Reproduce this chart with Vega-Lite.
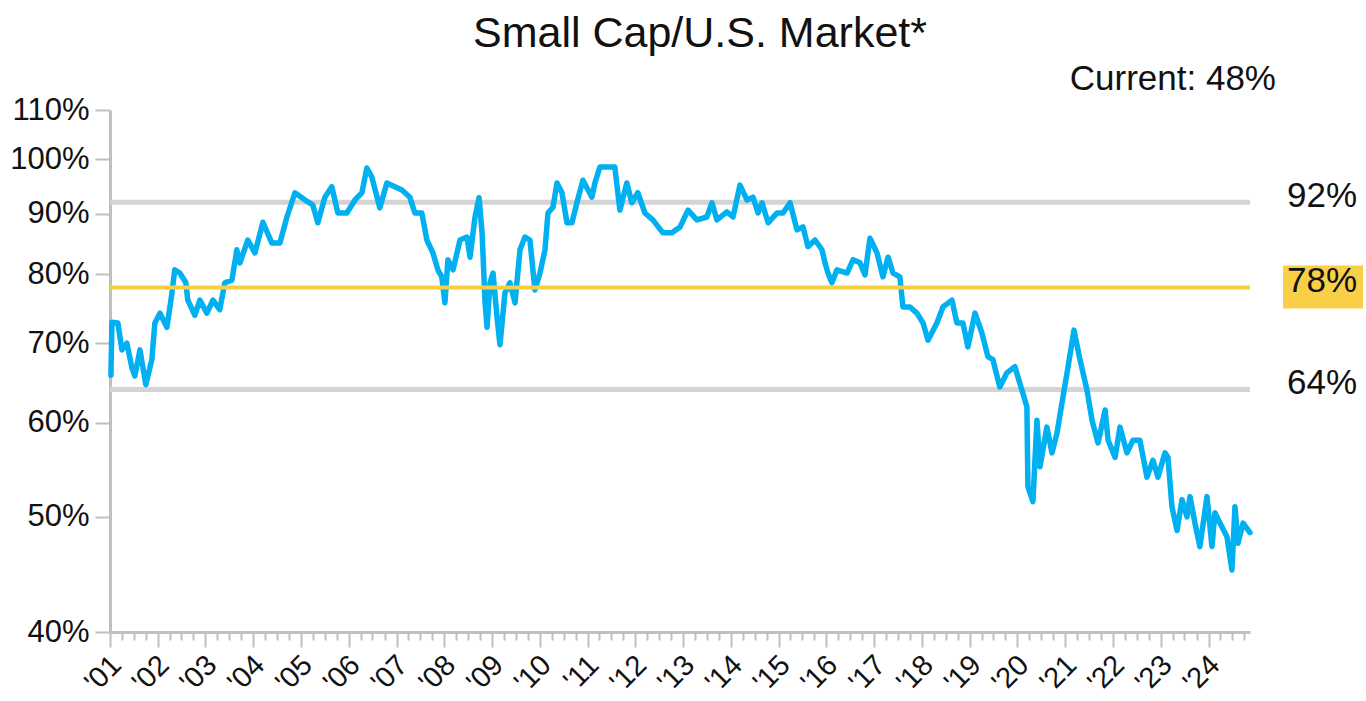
{
  "$schema": "https://vega.github.io/schema/vega-lite/v6.json",
  "width": 1140,
  "height": 522,
  "autosize": {"type": "none"},
  "padding": {"left": 110, "top": 110, "right": 116, "bottom": 69},
  "background": "white",
  "config": {"view": {"stroke": null}, "font": "Liberation Sans"},
  "title": {"text": "Small Cap/U.S. Market*", "fontSize": 43, "font": "Liberation Sans", "fontWeight": "normal", "color": "#111", "anchor": "middle", "dx": 20, "offset": 6},
  "datasets": {
    "series": [
      {"date": "2001-01-08", "pct": 65.8}, {"date": "2001-01-16", "pct": 72.9}, {"date": "2001-03-02", "pct": 72.8}, {"date": "2001-04-02", "pct": 69.1},
      {"date": "2001-05-10", "pct": 70.0}, {"date": "2001-06-18", "pct": 66.7}, {"date": "2001-07-10", "pct": 65.7}, {"date": "2001-08-18", "pct": 69.1},
      {"date": "2001-10-02", "pct": 64.6}, {"date": "2001-11-17", "pct": 67.8}, {"date": "2001-12-10", "pct": 72.8}, {"date": "2002-01-18", "pct": 74.2},
      {"date": "2002-03-12", "pct": 72.2}, {"date": "2002-04-18", "pct": 76.9}, {"date": "2002-05-11", "pct": 80.7}, {"date": "2002-06-19", "pct": 80.2},
      {"date": "2002-08-04", "pct": 78.7}, {"date": "2002-08-19", "pct": 76.1}, {"date": "2002-10-12", "pct": 73.9}, {"date": "2002-11-19", "pct": 76.1},
      {"date": "2003-01-12", "pct": 74.2}, {"date": "2003-02-27", "pct": 76.1}, {"date": "2003-04-20", "pct": 74.7}, {"date": "2003-05-29", "pct": 78.7},
      {"date": "2003-07-22", "pct": 79.1}, {"date": "2003-08-29", "pct": 83.9}, {"date": "2003-09-21", "pct": 81.8}, {"date": "2003-11-21", "pct": 85.5},
      {"date": "2004-01-14", "pct": 83.4}, {"date": "2004-03-15", "pct": 88.5}, {"date": "2004-05-23", "pct": 85.0}, {"date": "2004-07-23", "pct": 85.0},
      {"date": "2004-09-15", "pct": 89.4}, {"date": "2004-11-15", "pct": 93.7}, {"date": "2005-01-31", "pct": 92.4}, {"date": "2005-04-01", "pct": 91.5},
      {"date": "2005-05-09", "pct": 88.4}, {"date": "2005-07-02", "pct": 92.9}, {"date": "2005-08-24", "pct": 94.8}, {"date": "2005-10-09", "pct": 90.1},
      {"date": "2005-12-17", "pct": 90.1}, {"date": "2006-02-17", "pct": 92.4}, {"date": "2006-04-11", "pct": 93.7}, {"date": "2006-05-19", "pct": 98.3},
      {"date": "2006-06-26", "pct": 96.6}, {"date": "2006-08-26", "pct": 91.0}, {"date": "2006-10-19", "pct": 95.5}, {"date": "2006-12-19", "pct": 94.8},
      {"date": "2007-02-11", "pct": 94.2}, {"date": "2007-04-13", "pct": 92.9}, {"date": "2007-05-21", "pct": 90.1}, {"date": "2007-07-13", "pct": 90.1},
      {"date": "2007-08-21", "pct": 85.5}, {"date": "2007-10-06", "pct": 83.4}, {"date": "2007-11-13", "pct": 80.7}, {"date": "2007-12-13", "pct": 79.6},
      {"date": "2008-01-06", "pct": 75.7}, {"date": "2008-01-29", "pct": 82.3}, {"date": "2008-03-08", "pct": 80.7}, {"date": "2008-04-30", "pct": 85.5},
      {"date": "2008-06-23", "pct": 86.0}, {"date": "2008-07-16", "pct": 82.7}, {"date": "2008-08-23", "pct": 89.4}, {"date": "2008-09-23", "pct": 92.8},
      {"date": "2008-10-16", "pct": 86.7}, {"date": "2008-11-08", "pct": 75.7}, {"date": "2008-11-23", "pct": 72.2}, {"date": "2008-12-16", "pct": 78.7},
      {"date": "2009-01-08", "pct": 80.2}, {"date": "2009-02-07", "pct": 73.7}, {"date": "2009-03-02", "pct": 69.8}, {"date": "2009-04-09", "pct": 77.2},
      {"date": "2009-05-17", "pct": 78.7}, {"date": "2009-06-25", "pct": 75.7}, {"date": "2009-08-02", "pct": 83.9}, {"date": "2009-09-09", "pct": 86.0},
      {"date": "2009-10-17", "pct": 85.5}, {"date": "2009-11-24", "pct": 77.6}, {"date": "2010-01-02", "pct": 80.2}, {"date": "2010-02-09", "pct": 83.9},
      {"date": "2010-03-04", "pct": 90.1}, {"date": "2010-04-11", "pct": 91.1}, {"date": "2010-05-12", "pct": 95.5}, {"date": "2010-06-19", "pct": 93.7},
      {"date": "2010-07-27", "pct": 88.4}, {"date": "2010-09-03", "pct": 88.4}, {"date": "2010-10-11", "pct": 91.9}, {"date": "2010-11-26", "pct": 96.0},
      {"date": "2011-02-03", "pct": 92.9}, {"date": "2011-02-26", "pct": 95.5}, {"date": "2011-04-05", "pct": 98.5}, {"date": "2011-06-05", "pct": 98.5},
      {"date": "2011-07-28", "pct": 98.5}, {"date": "2011-09-05", "pct": 90.6}, {"date": "2011-10-28", "pct": 95.5}, {"date": "2011-12-05", "pct": 91.9},
      {"date": "2012-01-20", "pct": 93.7}, {"date": "2012-03-14", "pct": 90.1}, {"date": "2012-05-14", "pct": 88.9}, {"date": "2012-07-30", "pct": 86.7},
      {"date": "2012-10-07", "pct": 86.7}, {"date": "2012-12-08", "pct": 87.7}, {"date": "2013-02-07", "pct": 90.6}, {"date": "2013-04-16", "pct": 88.9},
      {"date": "2013-07-01", "pct": 89.4}, {"date": "2013-08-09", "pct": 91.9}, {"date": "2013-09-16", "pct": 88.9}, {"date": "2013-12-01", "pct": 90.3},
      {"date": "2014-01-17", "pct": 89.4}, {"date": "2014-03-11", "pct": 95.1}, {"date": "2014-05-04", "pct": 92.4}, {"date": "2014-06-19", "pct": 92.9},
      {"date": "2014-07-27", "pct": 90.1}, {"date": "2014-08-27", "pct": 91.9}, {"date": "2014-10-12", "pct": 88.4}, {"date": "2014-12-20", "pct": 90.1},
      {"date": "2015-02-03", "pct": 90.1}, {"date": "2015-03-29", "pct": 91.9}, {"date": "2015-05-21", "pct": 87.2}, {"date": "2015-07-06", "pct": 87.7},
      {"date": "2015-08-13", "pct": 84.4}, {"date": "2015-10-06", "pct": 85.5}, {"date": "2015-11-28", "pct": 83.9}, {"date": "2015-12-21", "pct": 81.8},
      {"date": "2016-01-13", "pct": 80.2}, {"date": "2016-02-12", "pct": 78.7}, {"date": "2016-03-22", "pct": 80.7}, {"date": "2016-06-07", "pct": 80.2},
      {"date": "2016-07-23", "pct": 82.3}, {"date": "2016-09-14", "pct": 81.8}, {"date": "2016-10-22", "pct": 79.9}, {"date": "2016-11-29", "pct": 85.8},
      {"date": "2017-01-22", "pct": 83.4}, {"date": "2017-03-08", "pct": 79.6}, {"date": "2017-04-16", "pct": 82.7}, {"date": "2017-05-24", "pct": 80.2},
      {"date": "2017-07-16", "pct": 79.6}, {"date": "2017-08-08", "pct": 75.1}, {"date": "2017-10-01", "pct": 75.1}, {"date": "2017-11-23", "pct": 74.2},
      {"date": "2018-01-09", "pct": 72.8}, {"date": "2018-02-16", "pct": 70.4}, {"date": "2018-04-25", "pct": 72.8}, {"date": "2018-06-10", "pct": 75.1},
      {"date": "2018-08-18", "pct": 76.1}, {"date": "2018-09-25", "pct": 72.8}, {"date": "2018-11-10", "pct": 72.8}, {"date": "2018-12-18", "pct": 69.5},
      {"date": "2019-02-10", "pct": 74.2}, {"date": "2019-04-04", "pct": 71.4}, {"date": "2019-05-20", "pct": 68.2}, {"date": "2019-06-27", "pct": 67.8},
      {"date": "2019-08-19", "pct": 64.3}, {"date": "2019-10-12", "pct": 66.1}, {"date": "2019-12-12", "pct": 66.9}, {"date": "2020-02-04", "pct": 63.9},
      {"date": "2020-03-13", "pct": 61.9}, {"date": "2020-03-21", "pct": 53.0}, {"date": "2020-04-28", "pct": 51.5}, {"date": "2020-05-29", "pct": 60.3},
      {"date": "2020-06-21", "pct": 55.1}, {"date": "2020-08-13", "pct": 59.5}, {"date": "2020-09-21", "pct": 56.6}, {"date": "2020-10-29", "pct": 58.8},
      {"date": "2020-12-14", "pct": 63.1}, {"date": "2021-01-22", "pct": 66.9}, {"date": "2021-03-08", "pct": 71.8}, {"date": "2021-04-23", "pct": 67.8},
      {"date": "2021-06-16", "pct": 63.9}, {"date": "2021-07-24", "pct": 60.3}, {"date": "2021-09-08", "pct": 57.7}, {"date": "2021-11-01", "pct": 61.5},
      {"date": "2021-11-24", "pct": 58.0}, {"date": "2022-01-16", "pct": 56.1}, {"date": "2022-02-23", "pct": 59.5}, {"date": "2022-04-17", "pct": 56.6},
      {"date": "2022-06-02", "pct": 58.0}, {"date": "2022-07-25", "pct": 58.0}, {"date": "2022-09-17", "pct": 54.0}, {"date": "2022-11-02", "pct": 55.8},
      {"date": "2022-12-10", "pct": 54.0}, {"date": "2023-02-02", "pct": 56.6}, {"date": "2023-02-25", "pct": 56.1}, {"date": "2023-03-27", "pct": 51.0},
      {"date": "2023-05-05", "pct": 48.7}, {"date": "2023-06-12", "pct": 51.7}, {"date": "2023-07-20", "pct": 50.0}, {"date": "2023-08-12", "pct": 52.0},
      {"date": "2023-09-19", "pct": 49.4}, {"date": "2023-10-27", "pct": 47.2}, {"date": "2023-12-20", "pct": 52.0}, {"date": "2024-01-27", "pct": 47.2},
      {"date": "2024-02-19", "pct": 50.4}, {"date": "2024-03-28", "pct": 49.4}, {"date": "2024-05-21", "pct": 48.1}, {"date": "2024-06-28", "pct": 45.1},
      {"date": "2024-07-21", "pct": 51.0}, {"date": "2024-08-13", "pct": 47.5}, {"date": "2024-09-21", "pct": 49.4}, {"date": "2024-11-13", "pct": 48.5}
    ],
    "levels": [
      {"level": 92, "label": "92%", "band": "+1 std. dev."},
      {"level": 78, "label": "78%", "band": "average"},
      {"level": 64, "label": "64%", "band": "-1 std. dev."}
    ],
    "notes": [{"level": 110, "label": "Current: 48%"}]
  },
  "layer": [
    {
      "data": {"name": "levels"},
      "transform": [{"filter": "datum.band !== 'average'"}],
      "mark": {"type": "rule", "strokeWidth": 5, "color": "#D4D4D4"},
      "encoding": {
        "y": {"field": "level", "type": "quantitative", "scale": {"type": "log", "domain": [40, 110], "nice": false}}
      }
    },
    {
      "data": {"name": "series"},
      "mark": {"type": "line", "color": "#00B0F0", "strokeWidth": 5.5, "strokeJoin": "round", "strokeCap": "round"},
      "encoding": {
        "x": {
          "field": "date", "type": "temporal",
          "scale": {"domain": [{"year": 2001, "month": 1, "date": 1}, {"year": 2024, "month": 11, "date": 13}], "nice": false},
          "axis": {
            "title": null, "grid": false,
            "tickCount": {"interval": "month", "step": 3},
            "labelExpr": "month(datum.value) === 0 ? \"'\" + timeFormat(datum.value, '%y') : ''",
            "labelAngle": -45, "labelAlign": "right", "labelBaseline": "middle",
            "labelFontSize": 29, "labelColor": "#111", "labelPadding": 13, "labelOffset": 6, "labelOverlap": false, "labelFlush": false, "labelBound": false,
            "tickSize": {"condition": {"test": "month(datum.value) === 0", "value": 15}, "value": 8},
            "tickColor": "#BFBFBF", "tickWidth": 2, "domainColor": "#BFBFBF", "domainWidth": 3
          }
        },
        "y": {
          "field": "pct", "type": "quantitative",
          "axis": {
            "title": null, "grid": false, "values": [40, 50, 60, 70, 80, 90, 100, 110],
            "labelExpr": "datum.value + '%'", "labelFontSize": 31, "labelColor": "#111",
            "tickSize": 15, "labelPadding": 6, "tickColor": "#BFBFBF", "tickWidth": 2,
            "domainColor": "#BFBFBF", "domainWidth": 3
          }
        }
      }
    },
    {
      "data": {"name": "levels"},
      "transform": [{"filter": "datum.band === 'average'"}],
      "mark": {"type": "rule", "strokeWidth": 4, "color": "#F8CF40"},
      "encoding": {"y": {"field": "level", "type": "quantitative"}}
    },
    {
      "data": {"name": "levels"},
      "transform": [{"filter": "datum.band === 'average'"}],
      "mark": {"type": "rect", "color": "#F8CF46", "xOffset": 33, "x2Offset": 113, "yOffset": -22, "y2Offset": 21},
      "encoding": {
        "x": {"datum": {"year": 2024, "month": 11, "date": 13}, "type": "temporal"},
        "x2": {"datum": {"year": 2024, "month": 11, "date": 13}},
        "y": {"field": "level", "type": "quantitative"},
        "y2": {"field": "level"}
      }
    },
    {
      "data": {"name": "levels"},
      "mark": {"type": "text", "align": "left", "baseline": "alphabetic", "dx": 37, "dy": 5, "fontSize": 35, "color": "#111"},
      "encoding": {
        "x": {"datum": {"year": 2024, "month": 11, "date": 13}, "type": "temporal"},
        "y": {"field": "level", "type": "quantitative"},
        "text": {"field": "label"}
      }
    },
    {
      "data": {"name": "notes"},
      "mark": {"type": "text", "align": "right", "baseline": "alphabetic", "dx": 26, "dy": -20, "fontSize": 35, "color": "#111"},
      "encoding": {
        "x": {"datum": {"year": 2024, "month": 11, "date": 13}, "type": "temporal"},
        "y": {"field": "level", "type": "quantitative"},
        "text": {"field": "label"}
      }
    }
  ]
}
